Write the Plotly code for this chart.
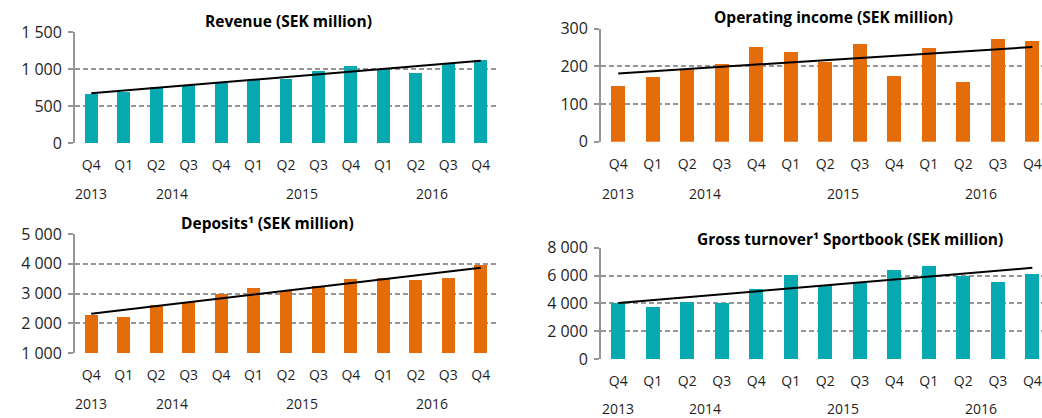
import numpy as np
import plotly.graph_objects as go

quarters = ["Q4", "Q1", "Q2", "Q3", "Q4", "Q1", "Q2", "Q3", "Q4", "Q1", "Q2", "Q3", "Q4"]
years = ["2013", "2014", "2015", "2016"]
year_pos = [0, 2.5, 6.5, 10.5]

revenue = [657, 694, 752, 788, 815, 851, 869, 973, 1045, 1000, 946, 1063, 1126]
operating_income = [150, 172, 193, 208, 253, 239, 213, 261, 175, 249, 159, 274, 267]
deposits = [2274, 2218, 2609, 2709, 2989, 3179, 3100, 3246, 3480, 3514, 3469, 3525, 3950]
gross_turnover = [4048, 3784, 4120, 4072, 5078, 6060, 5365, 5485, 6395, 6683, 6012, 5533, 6108]

titles = ["Revenue (SEK million)", "Operating income (SEK million)",
          "Deposits¹ (SEK million)", "Gross turnover¹ Sportbook (SEK million)"]

TEAL = "#07A9B1"
ORANGE = "#E46C0A"
GRID = "#959595"
FONT = "Open Sans"
TXT = "#1f1f1f"

W, H = 1042, 418


def px_x(a, b):
    return [a / W, b / W]


def px_y(top, bottom):
    return [(H - bottom) / H, (H - top) / H]


panels = [
    dict(data=revenue, color=TEAL, xdom=px_x(75, 497), xr=[-0.5, 12.5],
         ydom=px_y(32, 143), yr=[0, 1500], dtick=500,
         title_xy=(288, 21), yy=193),
    dict(data=operating_income, color=ORANGE, xdom=px_x(601, 1042), xr=[-0.5, 12.28],
         ydom=px_y(28.7, 141.7), yr=[0, 300], dtick=100,
         title_xy=(833, 17), yy=193),
    dict(data=deposits, color=ORANGE, xdom=px_x(75, 497), xr=[-0.5, 12.5],
         ydom=px_y(234, 353.3), yr=[1000, 5000], dtick=1000,
         title_xy=(267, 223), yy=403),
    dict(data=gross_turnover, color=TEAL, xdom=px_x(601, 1042), xr=[-0.5, 12.28],
         ydom=px_y(247.7, 359), yr=[0, 8000], dtick=2000,
         title_xy=(850, 239), yy=408),
]

fig = go.Figure()
idx = list(range(len(quarters)))
annotations = []

for i, p in enumerate(panels):
    n = "" if i == 0 else str(i + 1)
    xa, ya = "x" + n, "y" + n
    base = p["yr"][0]
    vals = np.array(p["data"], dtype=float)
    fig.add_trace(go.Bar(x=idx, y=vals - base, base=base, width=0.4,
                         marker=dict(color=p["color"], line=dict(width=0)),
                         xaxis=xa, yaxis=ya, showlegend=False, hoverinfo="skip"))
    slope, intercept = np.polyfit(idx, vals, 1)
    fig.add_trace(go.Scatter(x=[idx[0], idx[-1]],
                             y=[intercept + slope * idx[0], intercept + slope * idx[-1]],
                             mode="lines", line=dict(color="black", width=2),
                             xaxis=xa, yaxis=ya, showlegend=False, hoverinfo="skip"))
    fig.update_layout(**{
        "xaxis" + n: dict(domain=p["xdom"], range=p["xr"], anchor=ya, automargin=False,
                          tickmode="array", tickvals=idx, ticktext=quarters,
                          showgrid=False, zeroline=False, showline=False, ticks="",
                          ticklabelstandoff=12,
                          tickfont=dict(family=FONT, size=14, color=TXT)),
        "yaxis" + n: dict(domain=p["ydom"], range=p["yr"], anchor=xa, automargin=False,
                          dtick=p["dtick"], tick0=0, tickformat=",",
                          showgrid=True, gridcolor=GRID, gridwidth=1.8, griddash="5px,3px",
                          zeroline=False, showline=True, linecolor=GRID, linewidth=1.8,
                          ticks="outside", ticklen=5, tickwidth=1.8, tickcolor=GRID,
                          ticklabelstandoff=3,
                          tickfont=dict(family=FONT, size=16, color=TXT)),
    })
    tx, ty = p["title_xy"]
    annotations.append(dict(text="<b>" + titles[i] + "</b>", xref="paper", yref="paper",
                            x=tx / W, y=(H - ty) / H, xanchor="center", yanchor="middle",
                            showarrow=False, font=dict(family=FONT, size=15.5, color="black")))
    for yl, yp in zip(years, year_pos):
        annotations.append(dict(text=yl, xref=xa, yref="paper", x=yp,
                                y=(H - p["yy"]) / H, xanchor="center", yanchor="middle",
                                showarrow=False,
                                font=dict(family=FONT, size=14, color=TXT)))

fig.update_layout(template="none", width=W, height=H, margin=dict(l=0, r=0, t=0, b=0),
                  paper_bgcolor="white", plot_bgcolor="white",
                  separators=", ", annotations=annotations, bargap=0)

fig.write_html("out.html", config={"displayModeBar": False},
               post_script="document.body.style.margin='0';document.body.style.overflow='hidden';")
